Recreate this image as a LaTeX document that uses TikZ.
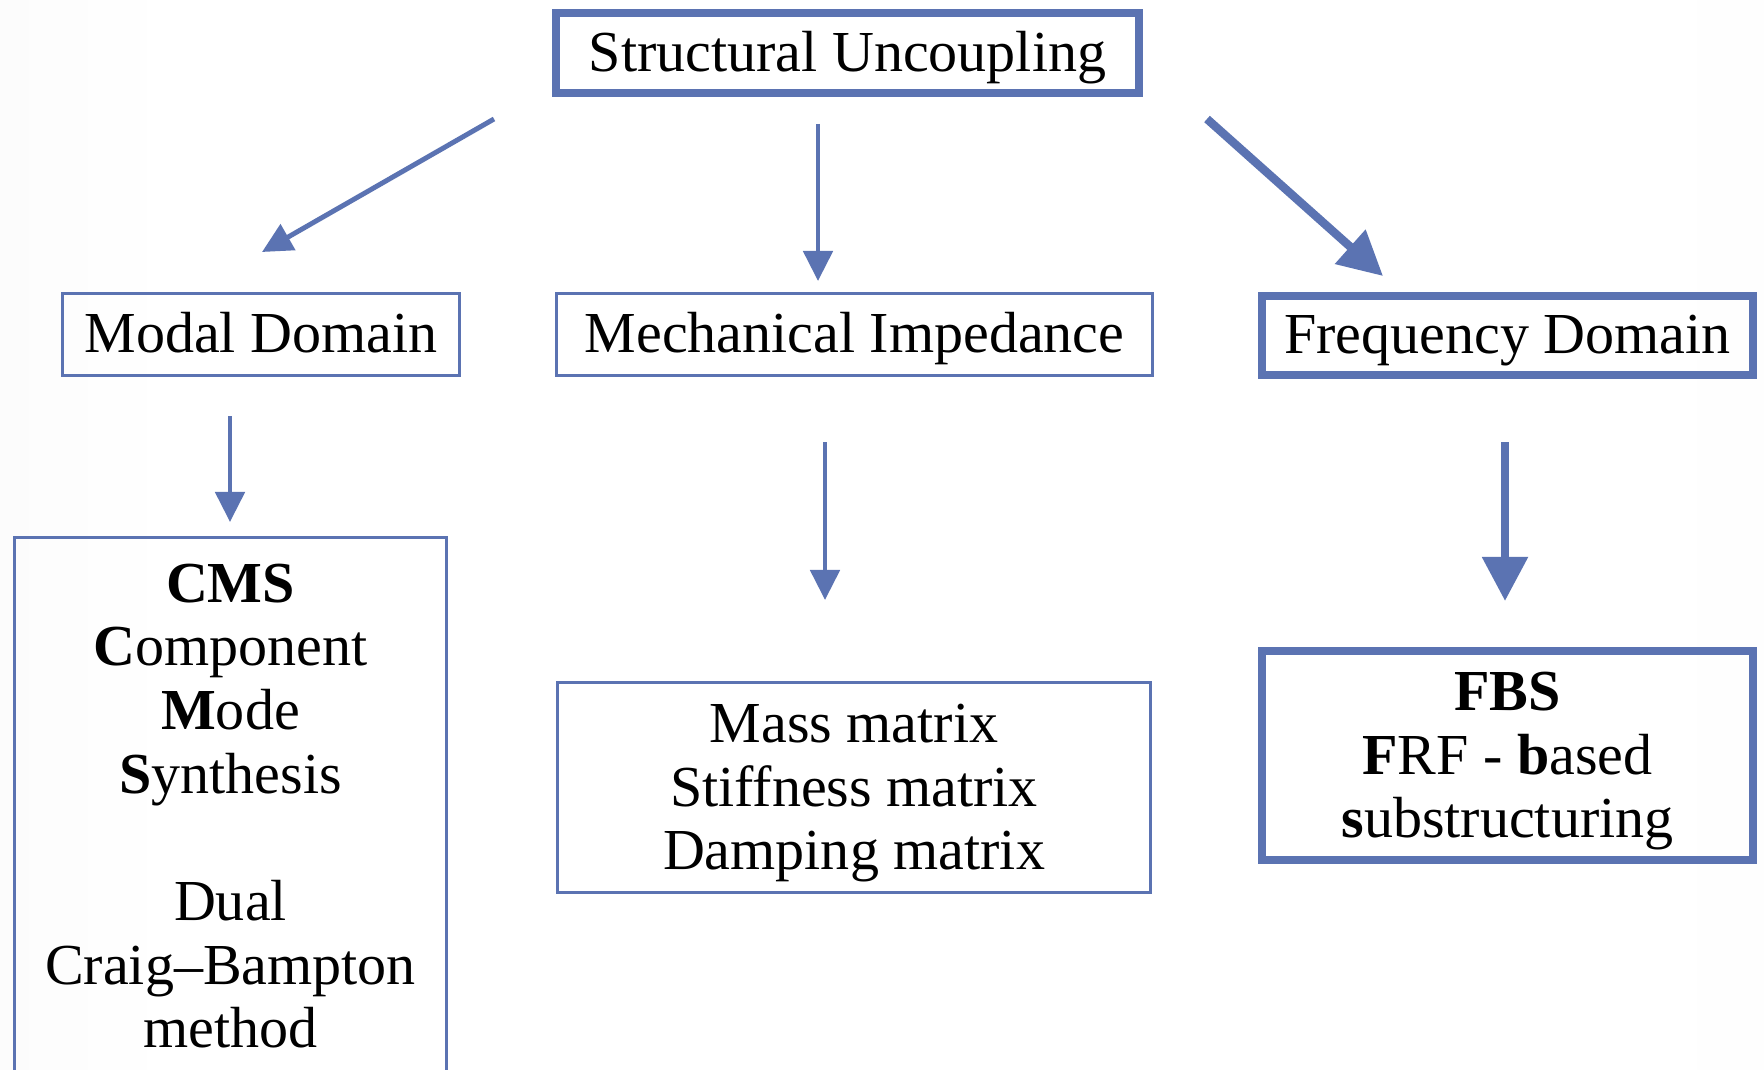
\documentclass[tikz,border=0pt]{standalone}
\usepackage{fontspec}
\setmainfont{Liberation Serif}
\usetikzlibrary{arrows.meta}
\definecolor{boxblue}{RGB}{91,115,178}
\pgfdeclarehorizontalshading{backdrop}{100bp}{color(0bp)=(black!7); color(30bp)=(white); color(72bp)=(white); color(100bp)=(black!5)}

\begin{document}
\begin{tikzpicture}[x=0.01cm,y=-0.01cm,
    font=\fontsize{16.5}{18.1}\selectfont,
    thinbox/.style={draw=boxblue,line width=0.9pt,align=center,inner sep=0pt},
    thickbox/.style={draw=boxblue,line width=2.1pt,align=center,inner sep=0pt},
    oneline/.style={text height=10.5pt,text depth=0pt},
    thinarrow/.style={draw=boxblue,line width=1.4pt,-{Triangle[length=0.3cm,width=0.29cm]}},
    thickarrow/.style={draw=boxblue,line width=2.4pt,-{Triangle[length=0.44cm,width=0.44cm]}}]
    \useasboundingbox (0,0) rectangle (1764,1070);
    \clip (0,0) rectangle (1764,1070);
    \shade[shading=backdrop] (0,0) rectangle (1764,1070);

    % top
    \node[thickbox,oneline,minimum width=5.83cm,minimum height=0.8cm] (uncoupling) at (847.5,53) {Structural Uncoupling};

    % domains
    \node[thinbox,oneline,minimum width=3.97cm,minimum height=0.82cm] (modal) at (261,334.5) {Modal Domain};
    \node[thinbox,oneline,minimum width=5.96cm,minimum height=0.82cm] (impedance) at (854.5,334.5) {Mechanical Impedance};
    \node[thickbox,oneline,minimum width=4.91cm,minimum height=0.79cm] (frequency) at (1507.5,335.5) {Frequency Domain};

    % methods
    \node[thinbox,minimum width=4.32cm,minimum height=5.36cm] (cms) at (230.5,806)
    {\textbf{CMS}\\ \textbf{C}omponent\\ \textbf{M}ode\\ \textbf{S}ynthesis\\[18.1pt] Dual\\ Craig--Bampton\\ method};
    \node[thinbox,text depth=0.4pt,minimum width=5.93cm,minimum height=2.1cm] (matrices) at (854,787.5)
    {Mass matrix\\ Stiffness matrix\\ Damping matrix};
    \node[thickbox,text depth=0.4pt,minimum width=4.91cm,minimum height=2.09cm] (fbs) at (1507.5,755.5)
    {\textbf{FBS}\\ \textbf{F}RF - \textbf{b}ased\\ \textbf{s}ubstructuring};

    % arrows
    \coordinate (modal in) at (262,252);
    \coordinate (impedance in) at (818,281);
    \coordinate (frequency in) at (1383,276);
    \coordinate (cms in) at (230,522);
    \coordinate (matrices in) at (825,600);
    \coordinate (fbs in) at (1505,601);
    \coordinate (modal out) at (230,416);
    \coordinate (impedance out) at (825,442);
    \coordinate (frequency out) at (1505,442);
    \draw[thinarrow] (494,119) coordinate (u1) (u1) -- (modal in);
    \draw[thinarrow] (818,124) coordinate (u2) (u2) -- (impedance in);
    \draw[thickarrow] (1207,119) coordinate (u3) (u3) -- (frequency in);
    \draw[thinarrow] (modal out) -- (cms in);
    \draw[thinarrow] (impedance out) -- (matrices in);
    \draw[thickarrow] (frequency out) -- (fbs in);
\end{tikzpicture}
\end{document}
